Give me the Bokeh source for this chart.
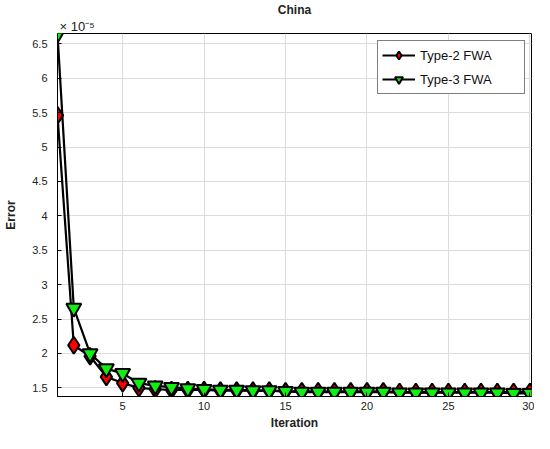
from bokeh.plotting import figure
from bokeh.models import (Range1d, NumeralTickFormatter, FixedTicker,
                          Title, Legend, LegendItem)
from bokeh.embed import file_html
from bokeh.resources import INLINE

iterations = list(range(1, 31))
type2_fwa = [5.46, 2.12, 1.96, 1.66, 1.57, 1.50, 1.48, 1.47, 1.47, 1.47,
             1.46, 1.46, 1.46, 1.46, 1.45, 1.45, 1.45, 1.45, 1.45, 1.45,
             1.45, 1.44, 1.44, 1.44, 1.44, 1.44, 1.44, 1.44, 1.44, 1.44]
type3_fwa = [6.64, 2.66, 2.00, 1.78, 1.71, 1.57, 1.53, 1.51, 1.49, 1.48,
             1.47, 1.47, 1.46, 1.46, 1.45, 1.44, 1.44, 1.44, 1.44, 1.44,
             1.44, 1.43, 1.43, 1.43, 1.43, 1.43, 1.43, 1.43, 1.42, 1.42]
x_ticks = [5, 10, 15, 20, 25, 30]
y_ticks = [1.5, 2, 2.5, 3, 3.5, 4, 4.5, 5, 5.5, 6, 6.5]

FONT = "Liberation Sans"

p = figure(width=534, height=433, output_backend="svg", toolbar_location=None,
           x_range=Range1d(1, 30.1), y_range=Range1d(1.375, 6.65),
           min_border_left=57, min_border_right=3, min_border_top=25,
           min_border_bottom=37)

p.outline_line_color = "black"
p.outline_line_width = 1
p.background_fill_color = "white"
p.border_fill_color = "white"

for ax in (p.xaxis[0], p.yaxis[0]):
    ax.major_tick_in = 4
    ax.major_tick_out = 0
    ax.minor_tick_line_color = None
    ax.axis_line_color = "black"
    ax.major_tick_line_color = "black"
    ax.major_label_text_font = FONT
    ax.major_label_text_font_size = "11px"
    ax.major_label_text_color = "#222222"
    ax.axis_label_text_font = FONT
    ax.axis_label_text_font_style = "bold"
    ax.axis_label_text_font_size = "12px"
    ax.axis_label_text_color = "#222222"

p.xaxis[0].ticker = FixedTicker(ticks=x_ticks)
p.yaxis[0].ticker = FixedTicker(ticks=y_ticks)
p.yaxis[0].formatter = NumeralTickFormatter(format="0.[0]")
p.xaxis[0].axis_label = "Iteration"
p.yaxis[0].axis_label = "Error"
p.xaxis[0].major_label_standoff = 5
p.yaxis[0].major_label_standoff = 10
p.xaxis[0].axis_label_standoff = 3
p.yaxis[0].axis_label_standoff = 11

p.xgrid.ticker = FixedTicker(ticks=x_ticks)
p.ygrid.ticker = FixedTicker(ticks=y_ticks)
p.grid.grid_line_color = "#dcdcdc"
p.grid.grid_line_width = 1

l2 = p.line(iterations, type2_fwa, line_color="black", line_width=2.2)
m2 = p.scatter(iterations, type2_fwa, marker="diamond", size=17, fill_color="#ff0000",
               line_color="black", line_width=2)
l3 = p.line(iterations, type3_fwa, line_color="black", line_width=2.2)
m3 = p.scatter(iterations, type3_fwa, marker="inverted_triangle", size=15,
               fill_color="#11ee11", line_color="black", line_width=2)

legend = Legend(items=[LegendItem(label="Type-2 FWA", renderers=[l2, m2]),
                       LegendItem(label="Type-3 FWA", renderers=[l3, m3])],
                location=(320, 302), orientation="vertical",
                label_text_font=FONT, label_text_font_size="13px",
                label_text_color="#111111", label_width=100,
                border_line_color="black", border_line_width=1,
                background_fill_color="white", background_fill_alpha=1,
                glyph_width=33, glyph_height=20, spacing=4, padding=4,
                margin=0, label_standoff=5)
p.add_layout(legend, "center")

exp_title = Title(text="\u00d7 10\u207b\u2075", align="left", offset=2, standoff=0,
                  text_font=FONT, text_font_size="13px", text_font_style="normal",
                  text_color="#222222")
main_title = Title(text="China", align="center", offset=3, standoff=0,
                   text_font=FONT, text_font_size="12px", text_font_style="bold",
                   text_color="#222222")
p.add_layout(exp_title, "above")
p.add_layout(main_title, "above")

open("out.html", "w").write(file_html(p, INLINE))
